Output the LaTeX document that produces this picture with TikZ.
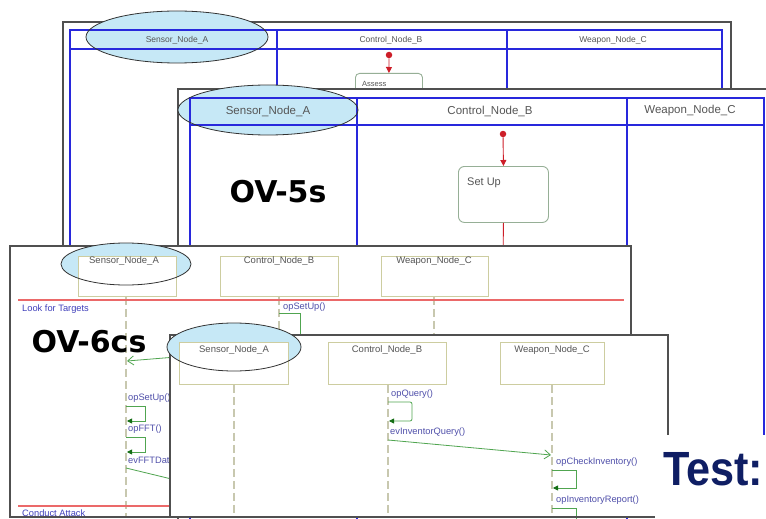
\documentclass[tikz,border=0pt]{standalone}
\usepackage{fontspec}
\setmainfont{Liberation Sans}
\newfontfamily\ovfont{DejaVu Sans}
\usetikzlibrary{arrows.meta,shapes.geometric}

\definecolor{frameGray}{RGB}{80,80,80}
\definecolor{laneBlue}{RGB}{40,40,220}
\definecolor{ovalFill}{RGB}{198,232,246}
\definecolor{boxOlive}{RGB}{205,205,160}
\definecolor{lifeGray}{RGB}{200,200,175}
\definecolor{msgText}{RGB}{80,80,170}
\definecolor{hdrText}{RGB}{85,85,85}
\definecolor{msgGreen}{RGB}{80,165,80}
\definecolor{tipGreen}{RGB}{20,110,20}
\definecolor{flowRed}{RGB}{205,30,40}
\definecolor{sepRed}{RGB}{235,105,105}
\definecolor{stateEdge}{RGB}{150,175,150}
\definecolor{testNavy}{RGB}{15,30,100}

\begin{document}
\begin{tikzpicture}[x=1pt,y=-1pt,
  window/.style={draw=frameGray, line width=1.6pt, fill=white},
  lane/.style={draw=laneBlue, line width=1.2pt},
  ovaledge/.style={draw=black!80, line width=0.8pt},
  hdrA/.style={text=hdrText, inner sep=0pt, font=\fontsize{8.5}{10}\selectfont},
  hdrB/.style={text=hdrText, inner sep=0pt, font=\fontsize{11.5}{13}\selectfont},
  hdrC/.style={text=hdrText, inner sep=0pt, font=\fontsize{9.5}{11}\selectfont},
  msglabel/.style={text=msgText, inner sep=0pt, anchor=west, font=\fontsize{9.3}{11}\selectfont},
  statebox/.style={draw=stateEdge, line width=0.9pt, rounded corners=4pt, fill=white, inner sep=0pt, anchor=north west},
  statelabel/.style={text=hdrText, inner sep=0pt, anchor=west},
  startdot/.style={circle, fill=flowRed, inner sep=0pt, minimum size=6.5pt},
  flow/.style={draw=flowRed, line width=0.9pt, -{Triangle[length=6pt,width=6pt]}},
  flowline/.style={draw=flowRed, line width=0.9pt},
  llbox/.style={draw=boxOlive, line width=0.9pt, fill=white, inner sep=0pt, anchor=north west},
  lifeline/.style={draw=lifeGray, line width=1.2pt, dash pattern=on 8pt off 4pt},
  selfcall/.style={draw=msgGreen, line width=0.8pt, -{Triangle[length=5pt,width=5pt,fill=tipGreen,color=tipGreen]}},
  asyncmsg/.style={draw=msgGreen, line width=0.8pt, -{Straight Barb[length=6pt,width=9pt]}},
  msgline/.style={draw=msgGreen, line width=0.8pt},
  fragline/.style={draw=sepRed, line width=1.2pt},
  ovlabel/.style={inner sep=0pt, font=\ovfont\bfseries\fontsize{30}{32}\selectfont}
]
\useasboundingbox (0,0) rectangle (766,519);
\fill[white] (0,0) rectangle (766,519);

% ---------- activity diagram, first sheet ----------
\draw[window] (63,22) rectangle (731,262);
\fill[ovalFill] (177,37) ellipse [x radius=91, y radius=26];
\draw[lane] (70,262) -- (70,30) -- (722,30) -- (722,262);
\draw[lane] (70,49) -- (722,49);
\draw[lane] (277,30) -- (277,262);
\draw[lane] (507,30) -- (507,262);
\draw[ovaledge] (177,37) ellipse [x radius=91, y radius=26];
\node[hdrA] (a1) at (177,40) {Sensor\_Node\_A};
\node[hdrA] (b1) at (391,40) {Control\_Node\_B};
\node[hdrA] (c1) at (613,40) {Weapon\_Node\_C};
\node[startdot] (start1) at (389,55) {};
\node[statebox, minimum width=67pt, minimum height=30pt] (assess) at (355,73) {};
\node[statelabel, font=\fontsize{7.5}{9}\selectfont] (assessT) at (362,84) {Assess};
\draw[flow] (start1) -- (assess.north);

% ---------- activity diagram, second sheet ----------
\draw[window] (178,89) rectangle (790,540);
\fill[ovalFill] (268,110) ellipse [x radius=90, y radius=25];
\draw[lane] (190,540) -- (190,98) -- (764,98) -- (764,540);
\draw[lane] (190,125) -- (764,125);
\draw[lane] (357,98) -- (357,540);
\draw[lane] (627,98) -- (627,540);
\draw[ovaledge] (268,110) ellipse [x radius=90, y radius=25];
\node[hdrB] (a2) at (268,111) {Sensor\_Node\_A};
\node[hdrB] (b2) at (490,111) {Control\_Node\_B};
\node[hdrB] (c2) at (690,111) {Weapon\_Node\_C};
\node[startdot] (start2) at (503,134) {};
\node[statebox, minimum width=90pt, minimum height=56pt, rounded corners=6pt] (setup) at (458,166) {};
\node[statelabel, font=\fontsize{11}{13}\selectfont] (setupT) at (467,183) {Set Up};
\coordinate (setupOut) at (503,262);
\draw[flow] (start2) -- (setup.north);
\draw[flowline] (setup.south) -- (setupOut);
\node[ovlabel] (ov5) at (278,192) {OV-5s};

% ---------- sequence diagram, first sheet ----------
\draw[window] (10,246) rectangle (631,517);
\fill[ovalFill] (126,264) ellipse [x radius=65, y radius=21];
\node[llbox, minimum width=98pt, minimum height=40pt] (sA3) at (78,256) {};
\node[llbox, minimum width=118pt, minimum height=40pt] (sB3) at (220,256) {};
\node[llbox, minimum width=107pt, minimum height=40pt] (sC3) at (381,256) {};
\draw[ovaledge] (126,264) ellipse [x radius=65, y radius=21];
\node[hdrC] (a3) at (124,261) {Sensor\_Node\_A};
\node[hdrC] (b3) at (279,261) {Control\_Node\_B};
\node[hdrC] (c3) at (434,261) {Weapon\_Node\_C};
\coordinate (lA3) at (126,517);
\coordinate (lB3) at (279,517);
\coordinate (lC3) at (434,517);
\draw[lifeline] (sA3.south -| lA3) -- (lA3);
\draw[lifeline] (sB3.south -| lB3) -- (lB3);
\draw[lifeline] (sC3.south -| lC3) -- (lC3);
\draw[fragline] (18,300) -- (624,300);
\node[msglabel, text=msgText!80!blue] (look) at (22,309) {Look for Targets};
\node[msglabel] (m31) at (283,307) {opSetUp()};
\draw[msgline] (279,313) -- (300,313) -- (300,350);
\node[ovlabel] (ov6) at (89,342) {OV-6cs};
\coordinate (fromB3) at (250,351);
\coordinate (toA3) at (127,361);
\draw[asyncmsg] (fromB3) -- (toA3);
\node[msglabel] (m32) at (128,398) {opSetUp()};
\draw[selfcall] (126,406) -- (145,406) -- (145,421) -- (127,421);
\node[msglabel] (m33) at (128,429) {opFFT()};
\draw[selfcall] (126,437) -- (145,437) -- (145,452) -- (127,452);
\node[msglabel] (m34) at (128,461) {evFFTData()};
\coordinate (evA3) at (126,468);
\coordinate (evB3) at (279,505);
\draw[msgline] (evA3) -- (evB3);
\draw[fragline] (18,506) -- (624,506);
\node[msglabel, text=msgText!80!blue] (attack) at (22,513) {Conduct Attack};
\draw[frameGray, line width=1.6pt] (10,517) -- (631,517);

% ---------- sequence diagram, second sheet ----------
\draw[window] (170,335) rectangle (668,517);
\fill[ovalFill] (234,347) ellipse [x radius=67, y radius=24];
\node[llbox, minimum width=109pt, minimum height=42pt] (sA4) at (179,342) {};
\node[llbox, minimum width=118pt, minimum height=42pt] (sB4) at (328,342) {};
\node[llbox, minimum width=104pt, minimum height=42pt] (sC4) at (500,342) {};
\draw[ovaledge] (234,347) ellipse [x radius=67, y radius=24];
\node[hdrC] (a4) at (234,350) {Sensor\_Node\_A};
\node[hdrC] (b4) at (387,350) {Control\_Node\_B};
\node[hdrC] (c4) at (552,350) {Weapon\_Node\_C};
\coordinate (lA4) at (234,516);
\coordinate (lB4) at (388,516);
\coordinate (lC4) at (552,516);
\draw[lifeline] (sA4.south -| lA4) -- (lA4);
\draw[lifeline] (sB4.south -| lB4) -- (lB4);
\draw[lifeline] (sC4.south -| lC4) -- (lC4);
\node[msglabel] (m41) at (391,394) {opQuery()};
\draw[selfcall, rounded corners=2pt] (388,402) -- (412,402) -- (412,421) -- (389,421);
\node[msglabel] (m42) at (390,432) {evInventorQuery()};
\coordinate (qB4) at (388,440);
\coordinate (qC4) at (551,455);
\draw[asyncmsg] (qB4) -- (qC4);
\node[msglabel] (m43) at (556,462) {opCheckInventory()};
\draw[selfcall] (552,470) -- (576,470) -- (576,488) -- (553,488);
\node[msglabel] (m44) at (556,500) {opInventoryReport()};
\draw[msgline] (552,508) -- (576,508) -- (576,522);
\draw[frameGray, line width=1.6pt] (170,517) -- (668,517);

% ---------- slide title fragment ----------
\fill[white] (655,435) rectangle (770,525);
\node[inner sep=0pt, anchor=base west, text=testNavy, font=\bfseries\fontsize{48}{50}\selectfont] (test) at (663,485) {\scalebox{0.9}[1]{Test:}};
\end{tikzpicture}
\end{document}
